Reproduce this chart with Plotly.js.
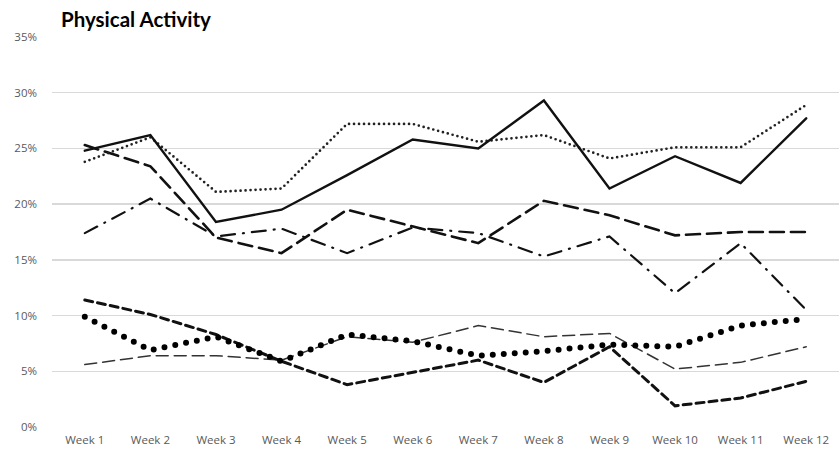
<!DOCTYPE html>
<html>
<head>
<meta charset="utf-8">
<script src="https://cdn.plot.ly/plotly-3.0.1.min.js"></script>
<style>
html,body{margin:0;padding:0;background:#fff;}
#chart{width:839px;height:463px;}
.js-line{stroke-linecap:round;}
</style>
</head>
<body>
<div id="chart"></div>
<script>
var weeks = ["Week 1","Week 2","Week 3","Week 4","Week 5","Week 6","Week 7","Week 8","Week 9","Week 10","Week 11","Week 12"];
var solidSeries   = [24.8, 26.2, 18.4, 19.5, 22.6, 25.8, 25.0, 29.3, 21.4, 24.3, 21.9, 27.7];
var dottedSeries  = [23.8, 26.0, 21.1, 21.4, 27.2, 27.2, 25.6, 26.2, 24.1, 25.1, 25.1, 28.9];
var longDashSeries= [25.3, 23.4, 17.0, 15.6, 19.5, 18.0, 16.5, 20.3, 19.0, 17.2, 17.5, 17.5];
var dashDotSeries = [17.4, 20.5, 17.1, 17.8, 15.6, 17.9, 17.4, 15.3, 17.1, 12.0, 16.5, 10.5];
var shortDashSeries=[11.4, 10.1, 8.3, 5.9, 3.8, 4.9, 6.0, 4.0, 7.2, 1.9, 2.6, 4.1];
var bigDotSeries  = [9.9, 6.9, 8.1, 5.9, 8.3, 7.7, 6.4, 6.8, 7.4, 7.2, 9.1, 9.7];
var thinDashSeries= [5.6, 6.4, 6.4, 6.0, 8.1, 7.6, 9.1, 8.1, 8.4, 5.2, 5.8, 7.2];
var yTickVals = [0,5,10,15,20,25,30,35];
var yTickText = ["0%","5%","10%","15%","20%","25%","30%","35%"];

function tr(y, color, width, dash){
  return {x: weeks, y: y, type:"scatter", mode:"lines",
    line:{color:color, width:width, dash:dash}, hoverinfo:"skip", showlegend:false};
}
var data = [
  tr(thinDashSeries, "#333333", 1.5, "12px,6px"),
  tr(shortDashSeries, "#111111", 3, "8px,5px"),
  tr(bigDotSeries, "#000000", 6, "0px,11px"),
  tr(dashDotSeries, "#111111", 2.2, "14px,8px,1px,8px"),
  tr(longDashSeries, "#111111", 2.6, "14px,7px"),
  tr(dottedSeries, "#222222", 2.7, "0px,5px"),
  tr(solidSeries, "#111111", 2.4, "solid")
];
var layout = {
  width:839, height:463,
  margin:{l:52, r:0, t:37, b:36},
  paper_bgcolor:"#fff", plot_bgcolor:"#fff",
  title:{text:"<b>Physical Activity</b>", x:61/839, xanchor:"left", y:1-20/463, yanchor:"middle",
    font:{family:"Lato, 'Open Sans', sans-serif", size:20.5, color:"#000"}},
  xaxis:{type:"category", range:[-0.5,11.5], showgrid:false, zeroline:false, showline:false,
    ticks:"", tickfont:{family:"'Open Sans', Lato, sans-serif", size:11.5, color:"#595959"}, ticklabelstandoff:4},
  yaxis:{range:[0,35], tickvals:yTickVals, ticktext:yTickText, showgrid:true, gridcolor:"#d9d9d9", gridwidth:1.3,
    zeroline:false, showline:false, ticks:"", ticklabelstandoff:14,
    tickfont:{family:"'Open Sans', Lato, sans-serif", size:11.5, color:"#595959"}},
  font:{family:"'Open Sans', sans-serif"}
};
Plotly.newPlot("chart", data, layout, {displayModeBar:false, staticPlot:true});
</script>
</body>
</html>
